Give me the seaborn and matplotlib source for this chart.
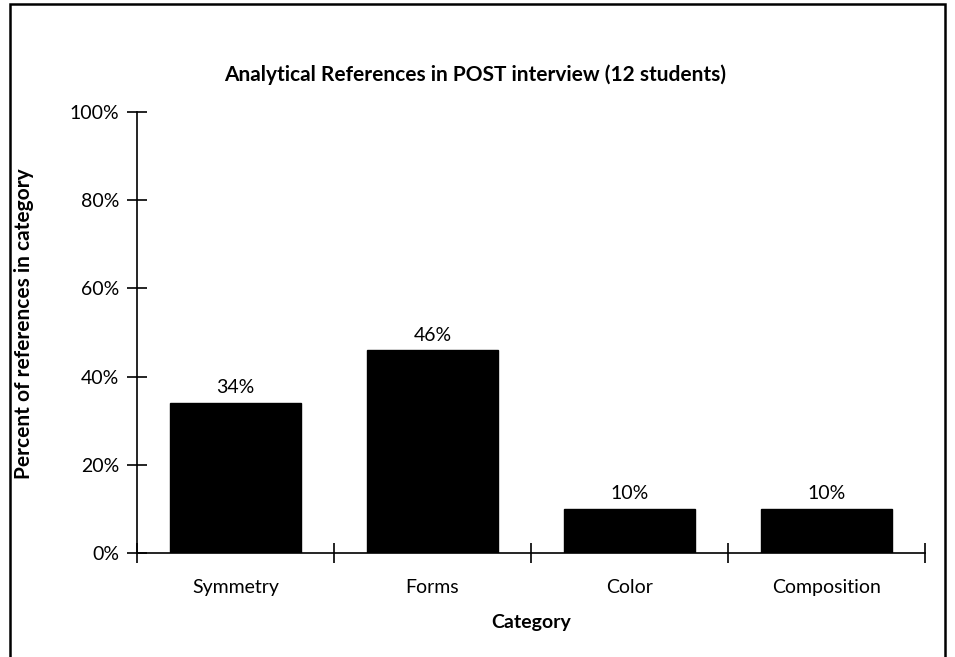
import matplotlib
matplotlib.use("Agg")
import matplotlib.pyplot as plt
import seaborn as sns
import pandas as pd
from matplotlib.patches import Rectangle
from matplotlib.ticker import FixedLocator, PercentFormatter

categories = ["Symmetry", "Forms", "Color", "Composition"]
percent_values = [34, 46, 10, 10]
bar_labels = ["34%", "46%", "10%", "10%"]
y_ticks = [0, 20, 40, 60, 80, 100]

df = pd.DataFrame({"Category": categories, "Percent": percent_values})

sns.set_theme(style="white")
plt.rcParams["font.family"] = ["Lato", "DejaVu Sans"]

fig = plt.figure(figsize=(9.55, 6.57), dpi=100)
ax = fig.add_axes([137 / 955, 1 - 553 / 657, (925 - 137) / 955, (553 - 112) / 657])

sns.barplot(data=df, x="Category", y="Percent", color="black", width=0.67,
            saturation=1, ax=ax, edgecolor="black")

ax.set_xlim(-0.5, len(categories) - 0.5)
ax.set_ylim(0, 100)
ax.set_yticks(y_ticks)
ax.yaxis.set_major_formatter(PercentFormatter(decimals=0))

# category separators on the x axis
ax.xaxis.set_minor_locator(FixedLocator([i - 0.5 for i in range(len(categories) + 1)]))
ax.tick_params(axis="x", which="major", length=0, pad=19, labelsize=14, colors="black",
               bottom=True)
ax.tick_params(axis="x", which="minor", direction="inout", length=14, width=1.2,
               color="black", bottom=True)
ax.tick_params(axis="y", which="major", direction="inout", length=14, width=1.2,
               color="black", labelsize=14, labelcolor="black", pad=6, left=True)

for side in ["top", "right"]:
    ax.spines[side].set_visible(False)
for side in ["left", "bottom"]:
    ax.spines[side].set_visible(True)
    ax.spines[side].set_color("black")
    ax.spines[side].set_linewidth(1.2)

for i, (v, lab) in enumerate(zip(percent_values, bar_labels)):
    ax.text(i, v + 1.5, lab, ha="center", va="bottom", fontsize=14, color="black")

ax.set_xlabel("Category", fontsize=14, fontweight="bold", color="black", labelpad=13)
ax.set_ylabel("Percent of references in category", fontsize=15, fontweight="bold",
              color="black")
ax.yaxis.set_label_coords(-0.131, 0.52)

fig.text(475 / 955, 1 - 75 / 657, "Analytical References in POST interview (12 students)",
         ha="center", va="center", fontsize=15, fontweight="bold", color="black")

# outer frame around the chart
fig.patches.append(Rectangle((10 / 955, -0.05), (945 - 10) / 955, 1 - 4 / 657 + 0.05,
                             transform=fig.transFigure, fill=False, edgecolor="black",
                             linewidth=1.8))

fig.savefig("out.png", dpi=100, facecolor="white")
